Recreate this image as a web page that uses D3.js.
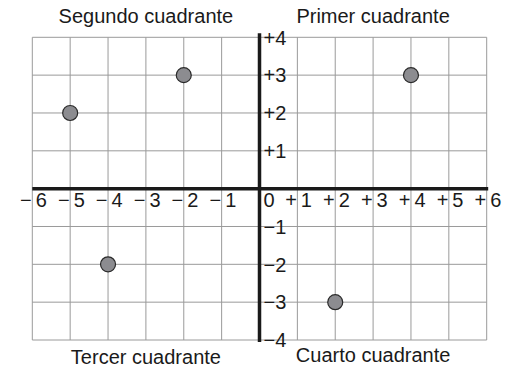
<!DOCTYPE html>
<html>
<head>
<meta charset="utf-8">
<script src="https://cdn.jsdelivr.net/npm/d3@7"></script>
<style>
  body { margin: 0; background: #fff; }
  svg { display: block; font-family: "Liberation Sans", Arial, sans-serif; }
</style>
</head>
<body>
<svg width="510" height="370"></svg>
<script>
// Data
var xTicks = [-6, -5, -4, -3, -2, -1, 0, 1, 2, 3, 4, 5, 6];
var yTicks = [-4, -3, -2, -1, 1, 2, 3, 4];
var pointX = [-5, -2, 4, -4, 2];
var pointY = [2, 3, 3, -2, -3];
var quadrantNames = ["Segundo cuadrante", "Primer cuadrante", "Tercer cuadrante", "Cuarto cuadrante"];

// Grid geometry
var gLeft = 32.3, gRight = 486.7, gTop = 37.3, gBottom = 340;
var fontSize = 20;

var x = d3.scaleLinear().domain([-6, 6]).range([gLeft, gRight]);
var y = d3.scaleLinear().domain([-4, 4]).range([gBottom, gTop]);

var svg = d3.select("svg");

// sign of a tick value as text
function signOf(v) { return v < 0 ? "\u2212" : (v > 0 ? "+" : ""); }

// Grid lines
var grid = svg.append("g")
	.attr("stroke", "#9a9a9a")
	.attr("stroke-width", 1);

grid.selectAll("line.v")
	.data(xTicks)
	.enter().append("line")
	.attr("class", "v")
	.attr("x1", function (d) { return x(d); })
	.attr("x2", function (d) { return x(d); })
	.attr("y1", gTop)
	.attr("y2", gBottom);

grid.selectAll("line.h")
	.data(d3.range(-4, 5))
	.enter().append("line")
	.attr("class", "h")
	.attr("y1", function (d) { return y(d); })
	.attr("y2", function (d) { return y(d); })
	.attr("x1", gLeft)
	.attr("x2", gRight);

// Axes
svg.append("line")
	.attr("x1", gLeft).attr("x2", gRight + 1.5)
	.attr("y1", y(0)).attr("y2", y(0))
	.attr("stroke", "#1a1a1a")
	.attr("stroke-width", 3.5);

svg.append("line")
	.attr("x1", x(0)).attr("x2", x(0))
	.attr("y1", gTop - 4).attr("y2", gBottom + 2)
	.attr("stroke", "#1a1a1a")
	.attr("stroke-width", 3.5);

// X tick labels: sign left of grid line, digit right of it
var xl = svg.append("g")
	.attr("font-size", fontSize)
	.attr("fill", "#1a1a1a");

xl.selectAll("text.sign")
	.data(xTicks.filter(function (d) { return d != 0; }))
	.enter().append("text")
	.attr("class", "sign")
	.attr("x", function (d) { return x(d) - 0.5; })
	.attr("y", y(0) + 18)
	.attr("text-anchor", "end")
	.text(function (d) { return signOf(d); });

xl.selectAll("text.num")
	.data(xTicks)
	.enter().append("text")
	.attr("class", "num")
	.attr("x", function (d) { return x(d) + (d == 0 ? 4 : 3.5); })
	.attr("y", y(0) + 18)
	.text(function (d) { return Math.abs(d); });

// Y tick labels: to the right of the vertical axis
svg.append("g")
	.attr("font-size", fontSize)
	.attr("fill", "#1a1a1a")
	.selectAll("text")
	.data(yTicks)
	.enter().append("text")
	.attr("x", x(0) + 4)
	.attr("y", function (d) { return y(d); })
	.attr("dy", "0.36em")
	.text(function (d) { return signOf(d) + Math.abs(d); });

// Points
svg.append("g")
	.selectAll("circle")
	.data(pointX)
	.enter().append("circle")
	.attr("cx", function (d) { return x(d); })
	.attr("cy", function (d, i) { return y(pointY[i]); })
	.attr("r", 7.5)
	.attr("fill", "#8c8c90")
	.attr("stroke", "#2a2a2a")
	.attr("stroke-width", 1.2);

// Quadrant titles
var titlePos = [
	{ cx: (gLeft + x(0)) / 2, cy: 23 },
	{ cx: (x(0) + gRight) / 2, cy: 23 },
	{ cx: (gLeft + x(0)) / 2, cy: 364 },
	{ cx: (x(0) + gRight) / 2, cy: 362 }
];

svg.append("g")
	.attr("font-size", fontSize)
	.attr("fill", "#1a1a1a")
	.attr("text-anchor", "middle")
	.selectAll("text")
	.data(quadrantNames)
	.enter().append("text")
	.attr("x", function (d, i) { return titlePos[i].cx; })
	.attr("y", function (d, i) { return titlePos[i].cy; })
	.text(function (d) { return d; });
</script>
</body>
</html>
